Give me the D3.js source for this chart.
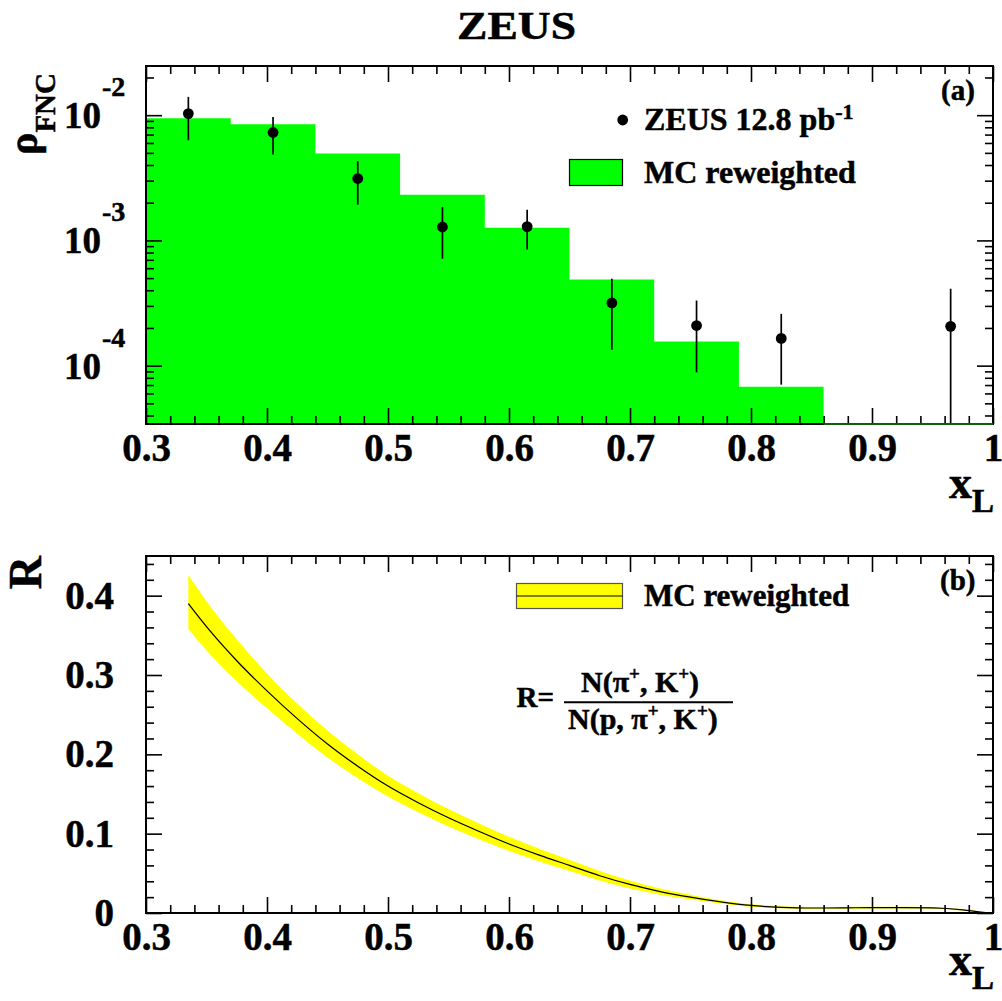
<!DOCTYPE html>
<html>
<head>
<meta charset="utf-8">
<script src="https://cdn.jsdelivr.net/npm/d3@7"></script>
<style>
  body { margin: 0; background: #fff; }
  svg text { font-family: "Liberation Serif", "Times New Roman", serif; font-weight: bold; fill: #000;
    stroke: #000; stroke-width: 0.5px; }
</style>
</head>
<body>
<div id="chart"></div>
<script>
// (a) MC histogram: bin edges in x_L and rho_FNC per bin
const binEdges = [0.30, 0.37, 0.44, 0.51, 0.58, 0.65, 0.72, 0.79, 0.86, 0.93, 1.00];
const mcRho = [9.46e-3, 8.47e-3, 4.94e-3, 2.32e-3, 1.26e-3, 4.88e-4, 1.56e-4, 6.79e-5, 0, 0];

// (a) ZEUS data points with error bar ends
const dataX = [0.335, 0.405, 0.475, 0.545, 0.615, 0.685, 0.755, 0.825, 0.965];
const dataRho = [1.03e-2, 7.27e-3, 3.12e-3, 1.28e-3, 1.29e-3, 3.17e-4, 2.09e-4, 1.65e-4, 2.06e-4];
const dataHi = [1.40e-2, 9.69e-3, 4.29e-3, 1.85e-3, 1.76e-3, 4.94e-4, 3.31e-4, 2.59e-4, 4.11e-4];
const dataLo = [6.31e-3, 4.85e-3, 1.93e-3, 7.14e-4, 8.47e-4, 1.34e-4, 8.84e-5, 7.05e-5, 1e-6];

// (b) R = N(pi,K)/N(p,pi,K) from reweighted MC, with its band
const rX = [0.335, 0.35, 0.375, 0.40, 0.425, 0.45, 0.475, 0.50, 0.525, 0.55, 0.575, 0.60, 0.625, 0.65,
  0.675, 0.70, 0.725, 0.75, 0.775, 0.80, 0.825, 0.85, 0.875, 0.90, 0.925, 0.95, 0.975, 0.99, 1.0];
const rMid = [0.390, 0.361, 0.318, 0.280, 0.245, 0.213, 0.185, 0.160, 0.139, 0.120, 0.103, 0.087, 0.073, 0.060,
  0.047, 0.036, 0.027, 0.020, 0.014, 0.0095, 0.0072, 0.0063, 0.0064, 0.0068, 0.0068, 0.0064, 0.0040, 0.0012, 0];
const rHi = [0.426, 0.393, 0.345, 0.302, 0.264, 0.230, 0.200, 0.173, 0.151, 0.131, 0.113, 0.096, 0.081, 0.067,
  0.053, 0.041, 0.031, 0.023, 0.016, 0.011, 0.0085, 0.0075, 0.0075, 0.0078, 0.0078, 0.0074, 0.0050, 0.0020, 0.0005];
const rLo = [0.358, 0.331, 0.292, 0.258, 0.226, 0.196, 0.170, 0.147, 0.127, 0.109, 0.093, 0.078, 0.065, 0.053,
  0.041, 0.031, 0.023, 0.017, 0.012, 0.008, 0.006, 0.0052, 0.0053, 0.0058, 0.0058, 0.0054, 0.0030, 0.0005, 0];

// ticks
const xTicks = [0.3, 0.4, 0.5, 0.6, 0.7, 0.8, 0.9, 1.0];
const xTickLabels = ['0.3', '0.4', '0.5', '0.6', '0.7', '0.8', '0.9', '1'];
const rhoTicks = [1e-2, 1e-3, 1e-4];
const rhoTickExp = ['-2', '-3', '-4'];
const rTicks = [0, 0.1, 0.2, 0.3, 0.4];
const rTickLabels = ['0', '0.1', '0.2', '0.3', '0.4'];

const width = 1002;
const height = 1001;
const left = 146, right = 993;
const topA = 66, bottomA = 424;
const topB = 556, bottomB = 913;

const svg = d3.select('#chart').append('svg')
  .attr('width', width)
  .attr('height', height);

const x = d3.scaleLinear().domain([0.3, 1.0]).range([left, right]);
const yA = d3.scaleLog().domain([3.42e-5, 2.47e-2]).range([bottomA, topA]);
const yB = d3.scaleLinear().domain([0, 0.45]).range([bottomB, topB]);

const xMinor = d3.range(0.3, 1.0001, 0.02).map(d => +d.toFixed(2)).filter(d => !xTicks.some(t => Math.abs(t - d) < 1e-6));
const rhoMinor = yA.ticks().filter(d => !rhoTicks.some(t => Math.abs(t - d) / t < 1e-6));
const rMinor = d3.range(0, 0.4501, 0.02).map(d => +d.toFixed(2)).filter(d => !rTicks.some(t => Math.abs(t - d) < 1e-6));

function tidy(g) {
  g.select('.domain').remove();
  g.selectAll('line').attr('stroke', '#000').attr('stroke-width', 1.6);
  g.attr('font-family', null).attr('font-size', null);
}

function drawTicks(yScale, yTop, yBottom, majorY, minorY) {
  // x ticks on bottom and top edges
  svg.append('g').attr('transform', `translate(0,${yBottom})`)
    .call(d3.axisBottom(x).tickValues(xTicks).tickSizeInner(-16).tickSizeOuter(0).tickPadding(9)
      .tickFormat((d, i) => xTickLabels[i]))
    .call(tidy)
    .selectAll('text').style('font-size', '39px');
  svg.append('g').attr('transform', `translate(0,${yBottom})`)
    .call(d3.axisBottom(x).tickValues(xMinor).tickSizeInner(-8).tickSizeOuter(0).tickFormat(''))
    .call(tidy);
  svg.append('g').attr('transform', `translate(0,${yTop})`)
    .call(d3.axisTop(x).tickValues(xTicks).tickSizeInner(-16).tickSizeOuter(0).tickFormat(''))
    .call(tidy);
  svg.append('g').attr('transform', `translate(0,${yTop})`)
    .call(d3.axisTop(x).tickValues(xMinor).tickSizeInner(-8).tickSizeOuter(0).tickFormat(''))
    .call(tidy);
  // y ticks on left and right edges
  [[d3.axisLeft, left], [d3.axisRight, right]].forEach(([ax, px]) => {
    svg.append('g').attr('transform', `translate(${px},0)`)
      .call(ax(yScale).tickValues(majorY).tickSizeInner(-16).tickSizeOuter(0).tickFormat(''))
      .call(tidy);
    svg.append('g').attr('transform', `translate(${px},0)`)
      .call(ax(yScale).tickValues(minorY).tickSizeInner(-8).tickSizeOuter(0).tickFormat(''))
      .call(tidy);
  });
}

// title
svg.append('text')
  .attr('x', 516.5).attr('y', 39)
  .attr('text-anchor', 'middle')
  .attr('textLength', 119).attr('lengthAdjust', 'spacingAndGlyphs')
  .style('font-size', '40px')
  .text('ZEUS');

// ---------- panel (a) ----------
svg.append('clipPath').attr('id', 'clipA')
  .append('rect').attr('x', left).attr('y', topA).attr('width', right - left).attr('height', bottomA - topA);

const bins = mcRho.map((v, i) => ({ x: binEdges[i], v }));
bins.push({ x: binEdges[binEdges.length - 1], v: mcRho[mcRho.length - 1] });
const histArea = d3.area()
  .x(d => x(d.x))
  .y0(bottomA)
  .y1(d => (d.v > 0 ? yA(d.v) : bottomA))
  .curve(d3.curveStepAfter);
svg.append('path')
  .datum(bins)
  .attr('d', histArea)
  .attr('fill', '#00ff00');

const panelA = svg.append('g').attr('clip-path', 'url(#clipA)');
panelA.selectAll('line.err')
  .data(dataX)
  .enter()
  .append('line')
  .attr('class', 'err')
  .attr('x1', d => x(d))
  .attr('x2', d => x(d))
  .attr('y1', (d, i) => yA(dataHi[i]))
  .attr('y2', (d, i) => yA(dataLo[i]))
  .attr('stroke', '#000')
  .attr('stroke-width', 1.7);
panelA.selectAll('circle')
  .data(dataX)
  .enter()
  .append('circle')
  .attr('cx', d => x(d))
  .attr('cy', (d, i) => yA(dataRho[i]))
  .attr('r', 5.4)
  .attr('fill', '#000');

svg.append('rect')
  .attr('x', left).attr('y', topA)
  .attr('width', right - left).attr('height', bottomA - topA)
  .attr('fill', 'none').attr('stroke', '#000').attr('stroke-width', 2);
drawTicks(yA, topA, bottomA, rhoTicks, rhoMinor);

// empty bins lie on the axis
svg.append('line')
  .attr('x1', x(0.86)).attr('x2', x(1.0))
  .attr('y1', bottomA).attr('y2', bottomA)
  .attr('stroke', '#0b5f0b').attr('stroke-width', 2);

// log labels 10^n
rhoTicks.forEach((t, i) => {
  svg.append('text')
    .attr('x', 101).attr('y', yA(t) + 13)
    .attr('text-anchor', 'end')
    .style('font-size', '37px')
    .text('10');
  svg.append('text')
    .attr('x', 102).attr('y', yA(t) - 19)
    .style('font-size', '28px')
    .text(rhoTickExp[i]);
});

// y title rho_FNC
const yTitleA = svg.append('text')
  .attr('transform', 'translate(37,73) rotate(-90)')
  .attr('text-anchor', 'end');
yTitleA.append('tspan').style('font-size', '42px').text('ρ');
yTitleA.append('tspan').attr('dy', 18).style('font-size', '29px').text('FNC');

// x title x_L
function xTitle(baseline) {
  const t = svg.append('text')
    .attr('x', 994).attr('y', baseline)
    .attr('text-anchor', 'end');
  t.append('tspan').style('font-size', '46px').text('x');
  t.append('tspan').attr('dy', 14).style('font-size', '33px').text('L');
}
xTitle(498);

// legend (a)
svg.append('circle').attr('cx', 622.7).attr('cy', 120).attr('r', 5.4).attr('fill', '#000');
const legA = svg.append('text').attr('x', 644).attr('y', 130).style('font-size', '32px');
legA.append('tspan').text('ZEUS 12.8 pb');
legA.append('tspan').attr('dy', -11).style('font-size', '22px').text('-1');
svg.append('rect')
  .attr('x', 569.5).attr('y', 159.5).attr('width', 53).attr('height', 26)
  .attr('fill', '#00ff00').attr('stroke', '#000').attr('stroke-width', 1.2);
svg.append('text').attr('x', 644).attr('y', 183).style('font-size', '32px').text('MC reweighted');
svg.append('text').attr('x', 941).attr('y', 100).style('font-size', '29px').text('(a)');

// ---------- panel (b) ----------
const rData = rX.map((d, i) => ({ x: d, mid: rMid[i], hi: rHi[i], lo: rLo[i] }));
svg.append('path')
  .datum(rData)
  .attr('d', d3.area().x(d => x(d.x)).y0(d => yB(d.lo)).y1(d => yB(d.hi)).curve(d3.curveMonotoneX))
  .attr('fill', '#ffff00');
svg.append('path')
  .datum(rData)
  .attr('d', d3.line().x(d => x(d.x)).y(d => yB(d.mid)).curve(d3.curveMonotoneX))
  .attr('fill', 'none')
  .attr('stroke', '#000')
  .attr('stroke-width', 1.2);

svg.append('rect')
  .attr('x', left).attr('y', topB)
  .attr('width', right - left).attr('height', bottomB - topB)
  .attr('fill', 'none').attr('stroke', '#000').attr('stroke-width', 2);
drawTicks(yB, topB, bottomB, [], []);
// R axis with labels
[[d3.axisLeft, left], [d3.axisRight, right]].forEach(([ax, px], k) => {
  svg.append('g').attr('transform', `translate(${px},0)`)
    .call(ax(yB).tickValues(rTicks).tickSizeInner(-16).tickSizeOuter(0).tickPadding(32)
      .tickFormat((d, i) => (k === 0 ? rTickLabels[i] : '')))
    .call(tidy)
    .selectAll('text').style('font-size', '39px');
  svg.append('g').attr('transform', `translate(${px},0)`)
    .call(ax(yB).tickValues(rMinor).tickSizeInner(-8).tickSizeOuter(0).tickFormat(''))
    .call(tidy);
});

svg.append('text')
  .attr('transform', 'translate(41,556) rotate(-90)')
  .attr('text-anchor', 'end')
  .style('font-size', '46px')
  .text('R');
xTitle(975);

// legend (b)
svg.append('rect')
  .attr('x', 516.5).attr('y', 583.5).attr('width', 106).attr('height', 25)
  .attr('fill', '#ffff00').attr('stroke', '#555').attr('stroke-width', 1.2);
svg.append('line')
  .attr('x1', 516.5).attr('x2', 622.5).attr('y1', 596).attr('y2', 596)
  .attr('stroke', '#000').attr('stroke-width', 1.2);
svg.append('text').attr('x', 644).attr('y', 606).style('font-size', '31px').text('MC reweighted');
svg.append('text').attr('x', 940).attr('y', 590).style('font-size', '29px').text('(b)');

// formula
svg.append('text').attr('x', 516.5).attr('y', 706.5).style('font-size', '29px').text('R=');
function withSup(t, parts) {
  let raised = false;
  parts.forEach(([s, sup]) => {
    const ts = t.append('tspan').text(s);
    if (sup && !raised) { ts.attr('dy', -12).style('font-size', '19px'); raised = true; }
    else if (!sup && raised) { ts.attr('dy', 12); raised = false; }
  });
}
const num = svg.append('text').attr('x', 581).attr('y', 691.5).style('font-size', '30px');
withSup(num, [['N(π'], ['+', true], [', K'], ['+', true], [')']]);
svg.append('line')
  .attr('x1', 564).attr('x2', 733).attr('y1', 702.3).attr('y2', 702.3)
  .attr('stroke', '#000').attr('stroke-width', 2);
const den = svg.append('text').attr('x', 568).attr('y', 728.5).style('font-size', '30px');
withSup(den, [['N(p, π'], ['+', true], [', K'], ['+', true], [')']]);
</script>
</body>
</html>
